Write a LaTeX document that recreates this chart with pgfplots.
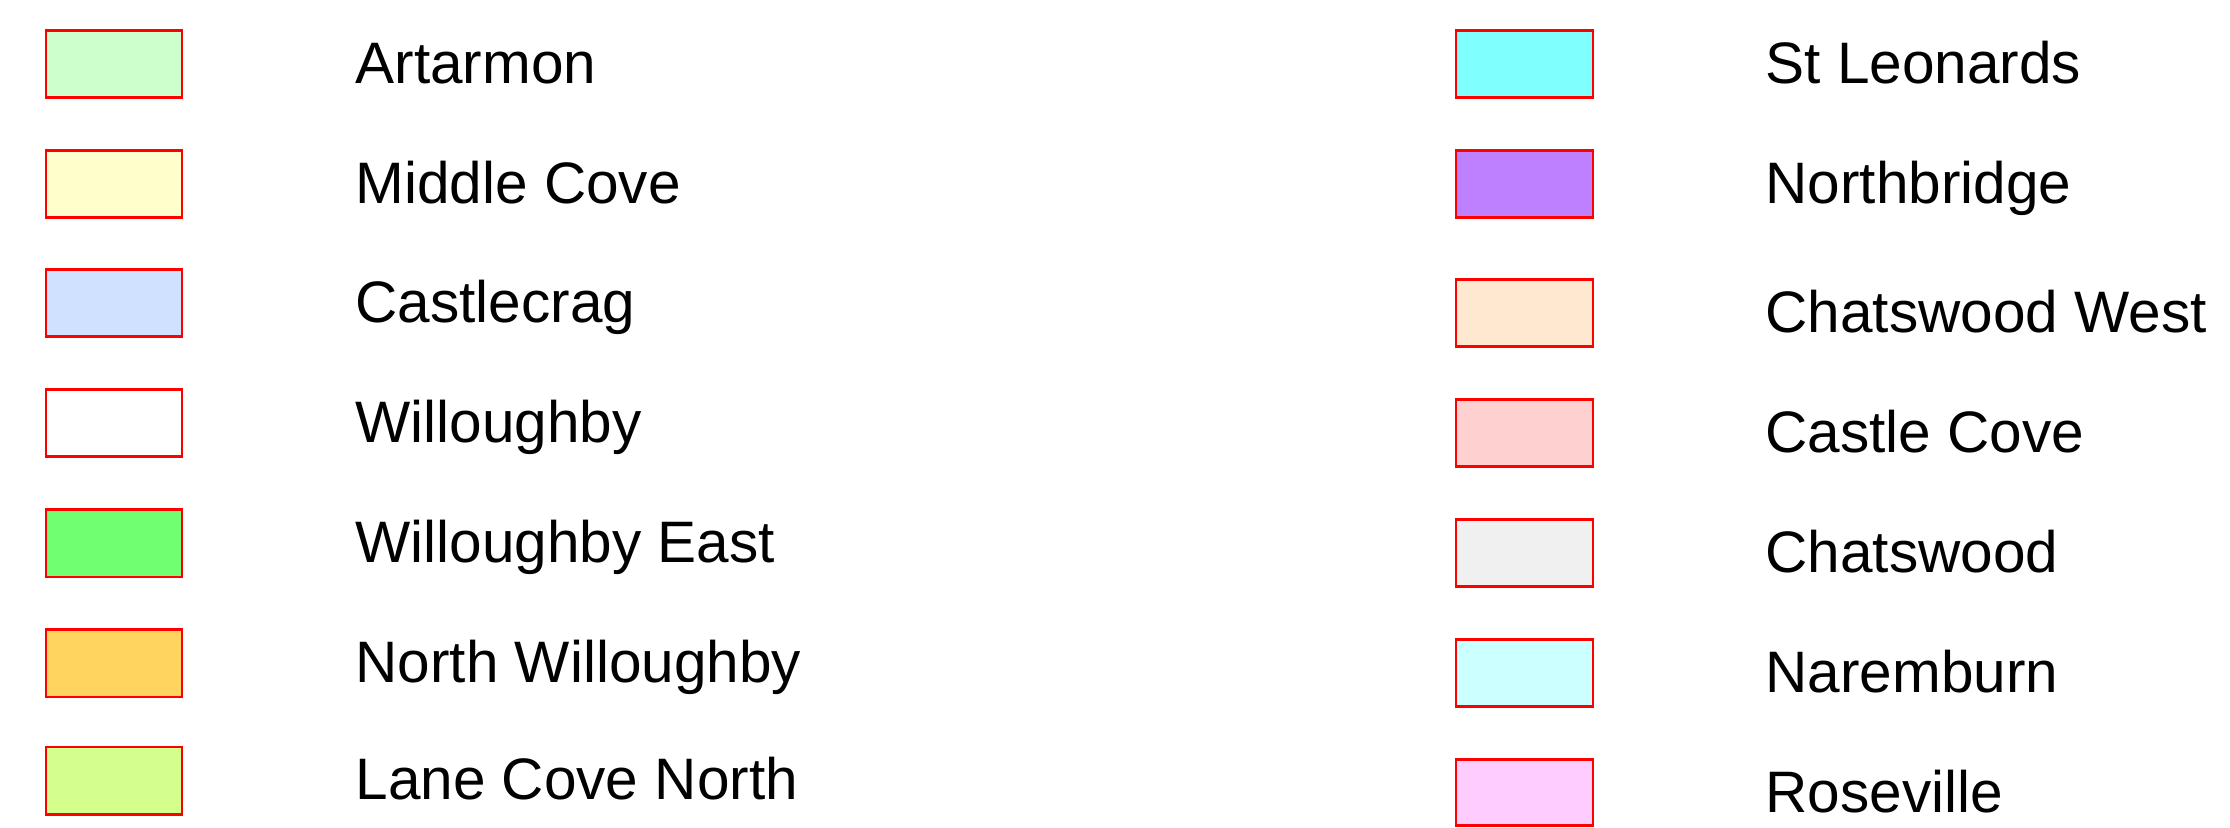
\documentclass[border=0pt]{standalone}
\usepackage{pgfplots}
\pgfplotsset{compat=1.18}
\usepackage{fontspec}
\setmainfont{Liberation Sans}
\definecolor{cArt}{HTML}{CCFFCC}
\definecolor{cMid}{HTML}{FFFFCC}
\definecolor{cCag}{HTML}{D0E0FF}
\definecolor{cWil}{HTML}{FFFFFF}
\definecolor{cWE}{HTML}{70FF70}
\definecolor{cNW}{HTML}{FFD55F}
\definecolor{cLCN}{HTML}{D4FF8C}
\definecolor{cStL}{HTML}{80FFFF}
\definecolor{cNb}{HTML}{BF80FF}
\definecolor{cCW}{HTML}{FFE8D0}
\definecolor{cCC}{HTML}{FFD0D0}
\definecolor{cCh}{HTML}{F0F0F0}
\definecolor{cNar}{HTML}{CCFFFF}
\definecolor{cRos}{HTML}{FFCCFF}
\tikzset{lbl/.style={anchor=base west, inner sep=0pt, font=\fontsize{17.55}{21}\selectfont}}
\begin{document}
\begin{tikzpicture}
\begin{axis}[
  width=669pt, height=248.1pt, scale only axis,
  xmin=0, xmax=2230, ymin=0, ymax=827, y dir=reverse,
  hide axis, clip=false,
  every axis plot/.append style={draw=red, line width=0.75pt, mark=none},
]
% left column
\addplot[fill=cArt] coordinates {(46,30.3) (182,30.3) (182,97.7) (46,97.7)} -- cycle;
\addplot[fill=cMid] coordinates {(46,150.3) (182,150.3) (182,217.7) (46,217.7)} -- cycle;
\addplot[fill=cCag] coordinates {(46,269.3) (182,269.3) (182,336.7) (46,336.7)} -- cycle;
\addplot[fill=cWil] coordinates {(46,389.3) (182,389.3) (182,456.7) (46,456.7)} -- cycle;
\addplot[fill=cWE] coordinates {(46,509.7) (182,509.7) (182,577.1) (46,577.1)} -- cycle;
\addplot[fill=cNW] coordinates {(46,629.7) (182,629.7) (182,697.1) (46,697.1)} -- cycle;
\addplot[fill=cLCN] coordinates {(46,747) (182,747) (182,814.4) (46,814.4)} -- cycle;
% right column
\addplot[fill=cStL] coordinates {(1456,30.3) (1593,30.3) (1593,97.7) (1456,97.7)} -- cycle;
\addplot[fill=cNb] coordinates {(1456,150.3) (1593,150.3) (1593,217.7) (1456,217.7)} -- cycle;
\addplot[fill=cCW] coordinates {(1456,279.3) (1593,279.3) (1593,346.7) (1456,346.7)} -- cycle;
\addplot[fill=cCC] coordinates {(1456,399.3) (1593,399.3) (1593,466.7) (1456,466.7)} -- cycle;
\addplot[fill=cCh] coordinates {(1456,519.3) (1593,519.3) (1593,586.7) (1456,586.7)} -- cycle;
\addplot[fill=cNar] coordinates {(1456,639.3) (1593,639.3) (1593,706.7) (1456,706.7)} -- cycle;
\addplot[fill=cRos] coordinates {(1456,759.3) (1593,759.3) (1593,825.3) (1456,825.3)} -- cycle;
% labels
\node[lbl] at (axis cs:355,83.1) {Artarmon};
\node[lbl] at (axis cs:355,203.1) {Middle Cove};
\node[lbl] at (axis cs:355,322.1) {Castlecrag};
\node[lbl] at (axis cs:355,442.1) {Willoughby};
\node[lbl] at (axis cs:355,562.5) {Willoughby East};
\node[lbl] at (axis cs:355,682.5) {North Willoughby};
\node[lbl] at (axis cs:355,799.8) {Lane Cove North};
\node[lbl] at (axis cs:1765,83.1) {St Leonards};
\node[lbl] at (axis cs:1765,203.1) {Northbridge};
\node[lbl] at (axis cs:1765,332.1) {Chatswood West};
\node[lbl] at (axis cs:1765,452.1) {Castle Cove};
\node[lbl] at (axis cs:1765,572.1) {Chatswood};
\node[lbl] at (axis cs:1765,692.1) {Naremburn};
\node[lbl] at (axis cs:1765,812.1) {Roseville};
\end{axis}
\pgfresetboundingbox
\path (current axis.south west) rectangle (current axis.north east);
\end{tikzpicture}
\end{document}
